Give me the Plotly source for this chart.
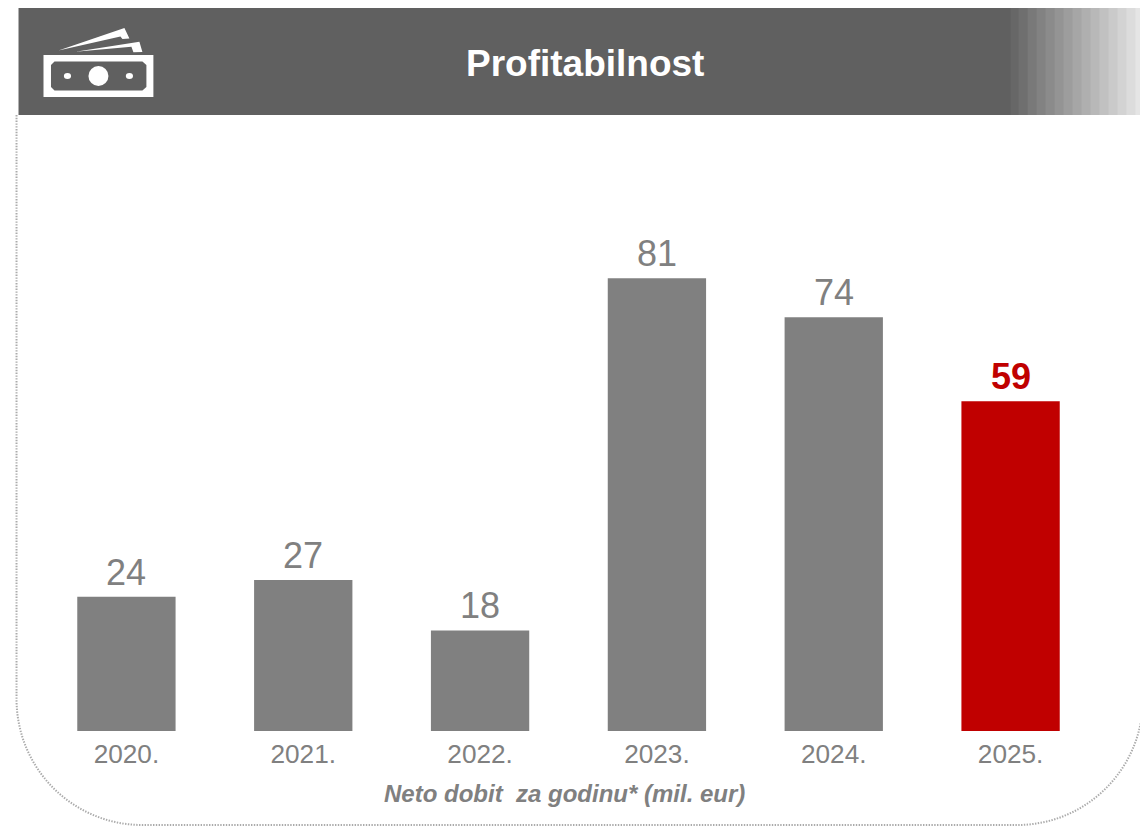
import plotly.graph_objects as go

years = ["2020.", "2021.", "2022.", "2023.", "2024.", "2025."]
profit = [24, 27, 18, 81, 74, 59]
bar_colors = ["#808080"] * 5 + ["#C00000"]
label_colors = ["#808080"] * 5 + ["#C00000"]
label_bold = [False] * 5 + [True]
title_text = "Profitabilnost"
axis_caption = "Neto dobit  za godinu* (mil. eur)"

W, H = 1140, 832
L, R, T, B = 37.5, 1099.5, 115, 731
PW, PH = R - L, B - T
FONT = "Liberation Sans"


def px(x):
    return (x - L) / PW


def py(y):
    return (B - y) / PH


def path(points, close=True):
    d = "M" + " L".join(f"{px(x):.5f},{py(y):.5f}" for x, y in points)
    return d + (" Z" if close else "")


def shape(d, color):
    return dict(type="path", xref="paper", yref="paper", path=d,
                fillcolor=color, line=dict(width=0), layer="above")


shapes = [dict(type="rect", xref="paper", yref="paper", x0=px(18), x1=px(1141),
               y0=py(8), y1=py(115), fillcolor="#606060", line=dict(width=0), layer="below")]

# stepped fade at the right end of the header (each strip runs to the edge so no seams show)
edges = [1011, 1019, 1028, 1037, 1046, 1055, 1064, 1073, 1082, 1091, 1100, 1109, 1118, 1127, 1136]
fade = ["#676767", "#6F6F6F", "#797979", "#828282", "#8B8B8B", "#949494", "#9D9D9D", "#A6A6A6",
        "#AFAFAF", "#B8B8B8", "#C1C1C1", "#CACACA", "#D3D3D3", "#DCDCDC", "#E5E5E5"]
for e, c in zip(edges, fade):
    shapes.append(dict(type="rect", xref="paper", yref="paper", x0=px(e), x1=px(1141),
                       y0=py(8), y1=py(115), fillcolor=c, line=dict(width=0), layer="below"))

# dotted rounded frame
r = 126
k = 0.5523 * r
lft, bot, rgt = 16, 825, 1143.5
frame = (f"M{px(lft):.5f},{py(115):.5f} L{px(lft):.5f},{py(bot - r):.5f} "
         f"C{px(lft):.5f},{py(bot - r + k):.5f} {px(lft + r - k):.5f},{py(bot):.5f} {px(lft + r):.5f},{py(bot):.5f} "
         f"L{px(rgt - r):.5f},{py(bot):.5f} "
         f"C{px(rgt - r + k):.5f},{py(bot):.5f} {px(rgt):.5f},{py(bot - r + k):.5f} {px(rgt):.5f},{py(bot - r):.5f}")
shapes.append(dict(type="path", xref="paper", yref="paper", path=frame,
                   line=dict(color="#ABABAB", width=2, dash="1.4px,1.4px"), layer="below"))

# banknote icon
shapes.append(shape(path([(43, 55), (153, 55), (153, 97), (43, 97)]), "#FFFFFF"))
shapes.append(shape(path([(54, 61.5), (142, 61.5), (146, 65), (146, 87), (142, 90.5),
                          (54, 90.5), (50.5, 87), (50.5, 65)]), "#606060"))
shapes.append(shape(path([(58, 50.5), (124, 28), (129, 38.5), (122, 39), (120, 36.5)]), "#FFFFFF"))
shapes.append(shape(path([(75, 51.8), (139, 41.7), (142, 52), (133, 52.3), (131, 46.8)]), "#FFFFFF"))
for cx, cy, rx, ry in [(98, 76, 10, 10), (67, 76, 3.6, 3), (129, 76, 3.6, 3)]:
    shapes.append(dict(type="circle", xref="paper", yref="paper", x0=px(cx - rx), x1=px(cx + rx),
                       y0=py(cy + ry), y1=py(cy - ry), fillcolor="#FFFFFF", line=dict(width=0), layer="above"))

fig = go.Figure(go.Bar(
    x=years, y=profit, width=0.556, marker=dict(color=bar_colors, line=dict(width=0)),
    hoverinfo="skip",
))

# category positions are given by index: "2020." would be read as the number 2020
value_labels = [
    dict(x=i, y=v, xref="x", yref="y", text=f"<b>{v}</b>" if b else str(v), showarrow=False,
         xanchor="center", yanchor="bottom", yshift=2,
         font=dict(family=FONT, size=36, color=c))
    for i, (v, c, b) in enumerate(zip(profit, label_colors, label_bold))
]

fig.update_layout(
    width=W, height=H, autosize=False, showlegend=False,
    margin=dict(l=L, r=W - R, t=T, b=H - B, pad=0),
    paper_bgcolor="#FFFFFF", plot_bgcolor="#FFFFFF",
    shapes=shapes,
    xaxis=dict(type="category", range=[-0.5, len(years) - 0.5], showgrid=False, zeroline=False,
               showline=False, ticks="", ticklabelstandoff=5,
               tickfont=dict(family=FONT, size=26.2, color="#808080")),
    yaxis=dict(range=[0, PH / 5.59], visible=False, fixedrange=True),
    annotations=value_labels + [
        dict(text=f"<b>{title_text}</b>", xref="paper", yref="paper", x=px(585.5), y=py(63.5),
             showarrow=False, xanchor="center", yanchor="middle",
             font=dict(family=FONT, size=37, color="#FFFFFF")),
        dict(text=f"<b><i>{axis_caption}</i></b>", xref="paper", yref="paper", x=px(564.5), y=py(793),
             showarrow=False, xanchor="center", yanchor="middle",
             font=dict(family=FONT, size=24, color="#808080")),
    ],
)

fig.write_html("out.html", config={"displayModeBar": False},
               post_script="document.body.style.margin='0';document.body.style.overflow='hidden';")
